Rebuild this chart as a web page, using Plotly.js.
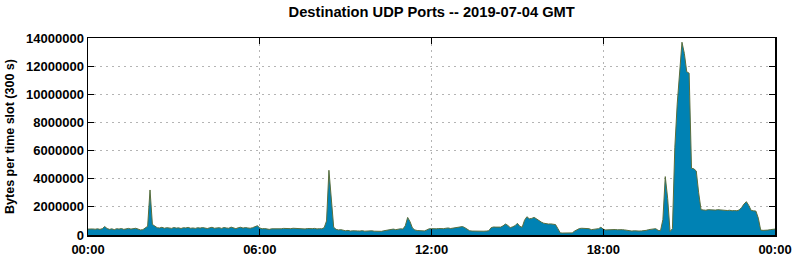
<!DOCTYPE html>
<html>
<head>
<meta charset="utf-8">
<script src="https://cdn.plot.ly/plotly-3.0.1.min.js"></script>
<style>html,body{margin:0;padding:0;background:#fff;}#chart{width:795px;height:260px;}</style>
</head>
<body>
<div id="chart"></div>
<script>
// Bytes per 300 s slot, in millions (slot 0 = 00:00 ... slot 288 = 24:00)
const bytesMillions = [
 0.42,0.44,0.43,0.41,0.44,0.40,0.45,0.60,0.46,0.40,
 0.44,0.38,0.45,0.42,0.46,0.40,0.43,0.47,0.42,0.44,
 0.48,0.42,0.36,0.38,0.52,0.62,3.20,0.75,0.64,0.52,
 0.50,0.55,0.48,0.52,0.50,0.47,0.53,0.49,0.51,0.46,
 0.52,0.50,0.54,0.48,0.50,0.47,0.52,0.49,0.53,0.50,
 0.46,0.51,0.55,0.48,0.50,0.52,0.47,0.53,0.50,0.48,
 0.56,0.50,0.45,0.52,0.55,0.49,0.53,0.50,0.48,0.52,
 0.58,0.66,0.50,0.44,0.46,0.42,0.40,0.44,0.43,0.46,
 0.45,0.44,0.47,0.46,0.44,0.45,0.48,0.46,0.47,0.44,
 0.45,0.43,0.46,0.44,0.45,0.47,0.43,0.45,0.44,0.52,
 1.00,4.60,2.30,0.55,0.40,0.36,0.38,0.32,0.30,0.33,
 0.28,0.30,0.27,0.29,0.28,0.31,0.27,0.29,0.28,0.30,
 0.27,0.25,0.28,0.26,0.30,0.33,0.36,0.40,0.42,0.38,
 0.42,0.44,0.42,0.65,1.25,0.95,0.50,0.36,0.32,0.30,
 0.33,0.29,0.36,0.44,0.45,0.42,0.44,0.46,0.43,0.45,
 0.48,0.50,0.46,0.48,0.50,0.54,0.58,0.60,0.52,0.40,
 0.30,0.28,0.27,0.28,0.26,0.28,0.27,0.28,0.30,0.52,
 0.57,0.56,0.55,0.56,0.65,0.78,0.68,0.52,0.58,0.66,
 0.83,0.62,0.55,1.05,1.30,1.15,1.18,1.25,1.15,1.00,
 0.92,0.84,0.80,0.78,0.79,0.78,0.74,0.45,0.15,0.14,
 0.14,0.14,0.14,0.15,0.28,0.38,0.46,0.48,0.47,0.48,
 0.45,0.38,0.40,0.42,0.45,0.55,0.42,0.36,0.38,0.40,
 0.38,0.39,0.37,0.40,0.38,0.36,0.33,0.29,0.28,0.30,
 0.27,0.28,0.29,0.30,0.33,0.38,0.42,0.46,0.45,0.33,
 0.30,1.10,4.15,2.60,0.25,0.45,6.20,9.30,11.80,13.70,
 12.90,11.60,11.50,4.75,4.70,4.55,3.00,1.80,1.78,1.76,
 1.80,1.78,1.79,1.77,1.80,1.78,1.76,1.79,1.74,1.76,
 1.72,1.74,1.72,1.78,1.95,2.20,2.37,2.10,1.75,1.72,
 1.70,1.20,0.35,0.33,0.32,0.35,0.38,0.40,0.42
];
const slotsPerDay = 288;
const xTickSlots = [0, 72, 144, 216, 288];
const xTickLabels = ["00:00", "06:00", "12:00", "18:00", "00:00"];
const yTickValues = [0, 2000000, 4000000, 6000000, 8000000, 10000000, 12000000, 14000000];

const xs = bytesMillions.map((v, i) => i);
const ys = bytesMillions.map(v => v * 1e6);

const family = "Liberation Sans, Arial, sans-serif";
const tickFont = {family: family, size: 13, color: "#000", weight: "bold"};

const trace = {
  type: "scatter", mode: "lines", x: xs, y: ys,
  fill: "tozeroy", fillcolor: "rgb(0,130,180)",
  line: {color: "rgb(90,110,60)", width: 1}, hoverinfo: "skip"
};

const gridStyle = {showgrid: true, gridcolor: "#b4b4b4", griddash: "2px,4px", gridwidth: 1};

const layout = {
  width: 795, height: 260,
  margin: {l: 88, r: 20, t: 38, b: 25, pad: 0},
  paper_bgcolor: "#fff", plot_bgcolor: "#fff",
  showlegend: false,
  title: {text: "Destination UDP Ports -- 2019-07-04 GMT", font: {family: family, size: 14.7, weight: "bold", color: "#000"}, x: 0.543, xanchor: "center", y: 0.955, yanchor: "middle"},
  xaxis: Object.assign({
    range: [0, slotsPerDay], tickmode: "array", tickvals: xTickSlots, ticktext: xTickLabels,
    ticks: "inside", ticklen: 6, tickcolor: "#000", mirror: "allticks",
    showline: true, linecolor: "#000", linewidth: 1.5,
    zeroline: false, tickfont: tickFont, ticklabelstandoff: 2, fixedrange: true
  }, gridStyle),
  yaxis: Object.assign({
    range: [0, 14000000], tickmode: "array", tickvals: yTickValues, ticktext: yTickValues.map(v => String(v)),
    ticks: "inside", ticklen: 6, tickcolor: "#000", mirror: "allticks",
    showline: true, linecolor: "#000", linewidth: 1.5,
    zeroline: false, tickfont: tickFont, fixedrange: true,
    title: {text: "Bytes per time slot (300 s)", font: {family: family, size: 12.5, color: "#000", weight: "bold"}, standoff: 8}
  }, gridStyle)
};

Plotly.newPlot("chart", [trace], layout, {displayModeBar: false, staticPlot: true});
</script>
</body>
</html>
